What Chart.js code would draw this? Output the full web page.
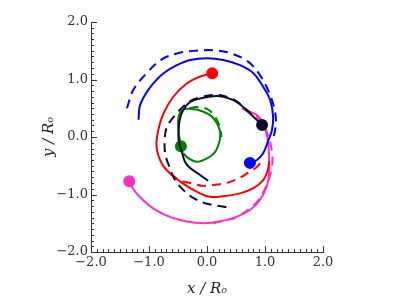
<!DOCTYPE html>
<html>
<head>
<meta charset="utf-8">
<script src="https://cdn.jsdelivr.net/npm/chart.js@4/dist/chart.umd.min.js"></script>
<style>
  html, body { margin: 0; padding: 0; background: #fff; }
  #wrap { width: 399px; height: 302px; }
</style>
</head>
<body>
<div id="wrap"><canvas id="orbits" width="399" height="302"></canvas></div>
<script>
// axis ticks
const majorTicks = [-2, -1, 0, 1, 2]
const minorStep = 0.1

// trajectories (x/Ro, y/Ro), first point is where the dot sits
const redX = [0.09, -0.12, -0.35, -0.58, -0.75, -0.84, -0.87, -0.78, -0.64, -0.41, -0.18, 0.05, 0.28, 0.57, 0.80, 0.97, 1.05, 1.07]
const redY = [1.11, 1.05, 0.93, 0.70, 0.41, 0.12, -0.17, -0.46, -0.63, -0.81, -0.95, -1.04, -1.03, -0.98, -0.89, -0.75, -0.57, -0.42]
const redDashX = [-0.64, -0.47, -0.24, -0.06, 0.22, 0.40, 0.60, 0.71, 0.86, 0.98]
const redDashY = [-0.63, -0.75, -0.81, -0.85, -0.82, -0.78, -0.69, -0.62, -0.52, -0.38]

const blueX = [0.74, 0.86, 0.97, 1.06, 1.12, 1.14, 1.09, 0.97, 0.80, 0.57, 0.28, 0.0, -0.29, -0.52, -0.75, -0.93, -1.07, -1.16, -1.18]
const blueY = [-0.45, -0.40, -0.28, -0.05, 0.12, 0.35, 0.64, 0.87, 1.11, 1.25, 1.34, 1.37, 1.34, 1.25, 1.11, 0.93, 0.73, 0.53, 0.30]
const blueDashX = [-1.38, -1.27, -1.05, -0.78, -0.49, -0.20, 0.10, 0.40, 0.71, 0.91, 1.06, 1.16, 1.19, 1.15]
const blueDashY = [0.50, 0.82, 1.10, 1.35, 1.46, 1.50, 1.51, 1.46, 1.31, 1.08, 0.80, 0.50, 0.24, 0.0]

const navyX = [0.95, 0.74, 0.51, 0.28, 0.11, -0.12, -0.29, -0.41, -0.47, -0.49, -0.49, -0.44, -0.38, -0.29, -0.12, 0.02]
const navyY = [0.21, 0.41, 0.61, 0.70, 0.71, 0.67, 0.61, 0.47, 0.30, 0.12, -0.05, -0.23, -0.43, -0.54, -0.66, -0.76]
const navyDashX = [0.95, 0.74, 0.51, 0.28, 0.11, -0.12, -0.30, -0.44, -0.58, -0.69, -0.73, -0.72, -0.67, -0.55, -0.38, -0.20, 0.0, 0.20, 0.34]
const navyDashY = [0.21, 0.42, 0.62, 0.72, 0.73, 0.69, 0.62, 0.50, 0.34, 0.18, -0.05, -0.30, -0.46, -0.75, -0.95, -1.08, -1.16, -1.20, -1.22]

const greenX = [-0.45, -0.49, -0.49, -0.42, -0.29, -0.06, 0.11, 0.22, 0.22, 0.14, 0.0, -0.18, -0.32, -0.41]
const greenY = [-0.16, 0.10, 0.35, 0.47, 0.49, 0.44, 0.33, 0.12, -0.05, -0.26, -0.37, -0.43, -0.37, -0.28]
const greenDashX = [-0.30, -0.18, 0.0, 0.12, 0.22, 0.25]
const greenDashY = [0.50, 0.52, 0.49, 0.38, 0.18, 0.0]

const pinkX = [-1.34, -1.30, -1.16, -0.93, -0.64, -0.35, -0.06, 0.22, 0.51, 0.74, 0.91, 1.03, 1.07, 1.07, 1.06, 1.04, 0.97, 0.86, 0.66, 0.60]
const pinkY = [-0.77, -0.86, -1.04, -1.24, -1.39, -1.47, -1.50, -1.47, -1.39, -1.27, -1.10, -0.86, -0.63, -0.35, -0.15, 0.0, 0.24, 0.38, 0.47, 0.50]
const pinkDashX = [0.10, 0.31, 0.50, 0.70, 0.87, 1.00, 1.10, 1.13, 1.09, 1.00, 0.86, 0.66]
const pinkDashY = [-1.50, -1.45, -1.40, -1.27, -1.12, -0.90, -0.62, -0.35, -0.10, 0.16, 0.36, 0.48]

const RED = '#ff0000', BLUE = '#0000ff', NAVY = '#0b0b30', GREEN = '#008000', PINK = '#ff2fc4'

function pts(xs, ys){
    return xs.map((x, i) => ({x, y: ys[i]}))
}
function solid(xs, ys, color, order){
    return {
        data: pts(xs, ys), showLine: true, borderColor: color, backgroundColor: color,
        borderWidth: 2, tension: 0.35, order,
        pointRadius: c => c.dataIndex === 0 ? 5 : 0,
        pointHoverRadius: 0
    }
}
function dashed(xs, ys, color, order){
    return {
        data: pts(xs, ys), showLine: true, borderColor: color, borderWidth: 2,
        borderDash: [9, 6], tension: 0.35, pointRadius: 0, order
    }
}

const serif = 'DejaVu Serif'

// inward major/minor tick marks on the left and bottom axes
const tickMarks = {
    id: 'tickMarks',
    afterDraw(chart){
        const {ctx, chartArea: a, scales: {x, y}} = chart
        ctx.save()
        ctx.strokeStyle = '#333'
        ctx.lineWidth = 1
        ctx.beginPath()
        const lo = majorTicks[0], hi = majorTicks[majorTicks.length - 1]
        const n = Math.round((hi - lo) / minorStep)
        for(let i = 0; i <= n; i++){
            const v = lo + i * minorStep
            const len = i % 10 === 0 ? 6 : 3
            const px = Math.round(x.getPixelForValue(v)) + 0.5
            ctx.moveTo(px, a.bottom)
            ctx.lineTo(px, a.bottom - len)
            const py = Math.round(y.getPixelForValue(v)) + 0.5
            ctx.moveTo(a.left, py)
            ctx.lineTo(a.left + len, py)
        }
        ctx.stroke()
        ctx.restore()
    }
}

function fmt(v){
    return (v < 0 ? '\u2212' : '') + Math.abs(v).toFixed(1)
}

const axisBase = {
    min: -2, max: 2,
    afterBuildTicks: s => { s.ticks = majorTicks.map(v => ({value: v})) },
    grid: {drawOnChartArea: false, drawTicks: false},
    border: {display: true, color: '#333', width: 1},
    ticks: {callback: fmt, color: '#333', font: {family: serif, size: 13}, padding: 3, maxRotation: 0}
}

new Chart(document.getElementById('orbits'), {
    type: 'scatter',
    data: {
        datasets: [
            solid(navyX, navyY, NAVY, 1),
            dashed(navyDashX, navyDashY, NAVY, 2),
            solid(redX, redY, RED, 3),
            dashed(redDashX, redDashY, RED, 4),
            solid(blueX, blueY, BLUE, 5),
            dashed(blueDashX, blueDashY, BLUE, 6),
            solid(pinkX, pinkY, PINK, 7),
            dashed(pinkDashX, pinkDashY, PINK, 8),
            solid(greenX, greenY, GREEN, 9),
            dashed(greenDashX, greenDashY, GREEN, 10)
        ]
    },
    options: {
        responsive: false,
        animation: false,
        events: [],
        layout: {padding: {top: 22, right: 76, bottom: 0, left: 0}},
        plugins: {legend: {display: false}, tooltip: {enabled: false}},
        scales: {
            x: Object.assign({}, axisBase, {
                afterFit: s => { s.height = 50 },
                title: {display: true, text: 'x / R\u2092', color: '#222',
                        font: {family: serif, size: 15, style: 'italic'}, padding: {top: 0, bottom: 4}}
            }),
            y: Object.assign({}, axisBase, {
                afterFit: s => { s.width = 91 },
                title: {display: true, text: 'y / R\u2092', color: '#222',
                        font: {family: serif, size: 15, style: 'italic'}, padding: {top: 40, bottom: 0}}
            })
        }
    },
    plugins: [tickMarks]
})
</script>
</body>
</html>
